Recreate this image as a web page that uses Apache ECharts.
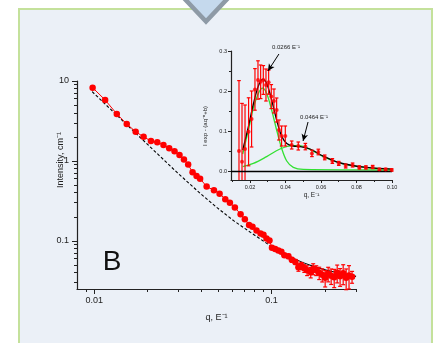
<!DOCTYPE html>
<html><head><meta charset="utf-8">
<script src="https://cdn.jsdelivr.net/npm/echarts@6/dist/echarts.min.js"></script>
<style>html,body{margin:0;padding:0;background:#fff}#c{width:434px;height:343px}</style>
</head><body><div id="c"></div>
<script>
// ---------- main (log-log) data ----------
const mainQ = [0.0098,0.01153,0.01342,0.01527,0.01714,0.0190,0.0209,0.0227,0.0246,0.0265,0.0284,0.0303,0.0321,0.0339,0.0359,0.0378,0.0396,0.0431,0.0474,0.0510,0.0549,0.0583,0.0622,0.0670,0.0708,0.0748,0.0782,0.0824,0.0868,0.0902,0.0938,0.0975,0.1007,0.105,0.1094,0.1138,0.1183,0.1247,0.1304,0.1365,0.142,0.1476,0.1533,0.159,0.1666,0.172,0.179,0.186,0.1935,0.201,0.209,0.2173,0.226,0.235,0.244,0.254,0.264,0.274,0.285];
const mainI = [8.25,5.79,3.87,2.90,2.32,2.0,1.78,1.71,1.585,1.44,1.32,1.19,1.04,0.90,0.72,0.65,0.60,0.478,0.43,0.39,0.332,0.30,0.261,0.216,0.186,0.158,0.150,0.135,0.124,0.119,0.107,0.101,0.0818,0.0794,0.076,0.0729,0.0659,0.064,0.0579,0.0546,0.0467,0.0487,0.0453,0.0428,0.0404,0.0447,0.0428,0.0398,0.0376,0.0345,0.0387,0.0365,0.035,0.0398,0.036,0.0393,0.0345,0.037,0.0355];
const mainErr = [0,0,0,0,0,0,0,0,0,0,0,0,0,0,0,0,0,0,0,0,0,0,0,0,0,0,0,0,0,0,0,0,0.003,0.003,0.003,0.003,0.003,0.004,0.004,0.004,0.005,0.005,0.005,0.006,0.006,0.007,0.006,0.007,0.007,0.008,0.008,0.008,0.009,0.01,0.009,0.011,0.01,0.012,0.006];
const baseQ = [0.00974,0.01722,0.02954,0.03992,0.04955,0.06142,0.07622,0.09871];
const baseI = [7.35,2.207,0.708,0.387,0.2585,0.1778,0.1277,0.0866];
const tailQ = [0.09871,0.1334,0.1656,0.2055,0.3003];
const tailI = [0.0866,0.0604,0.0494,0.0428,0.036];
const mainXLabels = [0.01,0.1];
const mainXMinor = [0.009,0.02,0.03,0.04,0.05,0.06,0.07,0.08,0.09,0.2,0.3];
const mainYLabels = [0.1,1,10];
const mainYMinor = [0.03,0.04,0.05,0.06,0.07,0.08,0.09,0.2,0.3,0.4,0.5,0.6,0.7,0.8,0.9,2,3,4,5,6,7,8,9];

// ---------- inset (linear) data ----------
const insQ = [0.0138,0.0155,0.0172,0.0192,0.0209,0.0228,0.0245,0.026,0.0275,0.029,0.0305,0.032,0.0335,0.035,0.0363,0.0378,0.0399,0.0435,0.0472,0.0512,0.0549,0.0585,0.0621,0.0664,0.070,0.0739,0.0778,0.0816,0.0853,0.0891,0.0929,0.0964,0.0998];
const insV = [0.05,0.023,0.055,0.098,0.13,0.204,0.2275,0.223,0.2275,0.215,0.222,0.186,0.175,0.1525,0.1025,0.0875,0.0875,0.065,0.0625,0.061,0.044,0.0475,0.034,0.025,0.019,0.0125,0.015,0.009,0.009,0.01,0.004,0.004,0.0025];
const insE = [0.176,0.146,0.11,0.085,0.07,0.052,0.048,0.042,0.036,0.04,0.03,0.03,0.03,0.03,0.025,0.025,0.025,0.01,0.01,0.008,0.008,0.007,0.006,0.006,0.005,0.005,0.005,0.004,0.004,0.004,0.003,0.003,0.003];
const fitQ = [0.0159,0.0191,0.0219,0.0247,0.0271,0.0294,0.0322,0.035,0.0378,0.0407,0.0444,0.0482,0.0538,0.0613,0.0688,0.0763,0.0857,0.1002];
const fitV = [0.0525,0.111,0.1675,0.2125,0.229,0.219,0.1775,0.1275,0.0875,0.069,0.0625,0.061,0.055,0.037,0.023,0.015,0.009,0.0045];
const g1Q = [0.0159,0.0191,0.0219,0.0247,0.0271,0.0294,0.0322,0.035,0.0378,0.0407,0.0444,0.05,0.1002];
const g1V = [0.0425,0.1025,0.157,0.194,0.207,0.194,0.1525,0.1025,0.057,0.025,0.009,0.004,0.0025];
const g2Q = [0.0159,0.0219,0.0294,0.0369,0.0444,0.0482,0.0538,0.0613,0.0688,0.0763,0.0857,0.1002];
const g2V = [0.011,0.019,0.036,0.055,0.0633,0.0633,0.054,0.036,0.0225,0.014,0.0083,0.004];
const insXLabels = [0.02,0.04,0.06,0.08,0.10];
const insXMinor = [0.01,0.03,0.05,0.07,0.09];
const insYLabels = [0,0.1,0.2,0.3];
const insYMinor = [0.05,0.15,0.25];
const insYMin = -0.0225;
const peakNotes = [
  {text:'0.0266 E\u207B\u00B9', at:[0.0403,0.31], from:[0.0363,0.2925], to:[0.0301,0.25]},
  {text:'0.0464 E\u207B\u00B9', at:[0.0561,0.135], from:[0.0527,0.1225], to:[0.0499,0.075]}
];

const zip = (a,b) => a.map((v,i)=>[v,b[i]]);
const FONT = 'Liberation Sans, Arial, sans-serif';
const TXT = '#222';

function errBars(capW, lw, yMin){
  return function(params, api){
    const x = api.value(0), y = api.value(1), e = api.value(2);
    if (!e) return null;
    let lov = y - e, clamped = false;
    if (yMin !== undefined && lov < yMin){ lov = yMin; clamped = true; }
    const hi = api.coord([x, y + e]);
    const lo = api.coord([x, lov]);
    const st = {stroke:'#ff0000', lineWidth:lw};
    const ch = [
      {type:'line', shape:{x1:hi[0],y1:hi[1],x2:lo[0],y2:lo[1]}, style:st},
      {type:'line', shape:{x1:hi[0]-capW,y1:hi[1],x2:hi[0]+capW,y2:hi[1]}, style:st}
    ];
    if (!clamped) ch.push({type:'line', shape:{x1:lo[0]-capW,y1:lo[1],x2:lo[0]+capW,y2:lo[1]}, style:st});
    return {type:'group', children:ch};
  };
}

const axLine = {lineStyle:{color:'#222', width:1.2}, onZero:false};
const noSplit = {show:false};

const chart = echarts.init(document.getElementById('c'), null, {renderer:'canvas'});
const option = {
  backgroundColor:'#ffffff',
  animation:false,
  textStyle:{fontFamily:FONT},
  grid:[
    {left:77, top:81, width:279, height:208},
    {left:231, top:51, width:161, height:129}
  ],
  xAxis:[
    {type:'log', gridIndex:0, position:'bottom', min:0.008, max:0.3, axisLine:axLine, splitLine:noSplit,
     axisTick:{length:5, customValues:mainXLabels, lineStyle:{color:'#222'}},
     axisLabel:{customValues:mainXLabels, formatter:v=>String(v), fontSize:9, color:TXT, margin:7, fontFamily:FONT},
     name:'q, E\u207B\u00B9', nameLocation:'middle', nameGap:24, nameTextStyle:{fontSize:9, color:TXT, fontFamily:FONT}},
    {type:'log', gridIndex:0, position:'bottom', min:0.008, max:0.3, axisLine:{show:false, onZero:false}, splitLine:noSplit,
     axisTick:{length:3, customValues:mainXMinor, lineStyle:{color:'#222'}}, axisLabel:{show:false}},
    {type:'value', gridIndex:1, position:'bottom', min:0.0093, max:0.1, axisLine:axLine, splitLine:noSplit,
     axisTick:{length:3, customValues:insXLabels, lineStyle:{color:'#222'}},
     axisLabel:{customValues:insXLabels, formatter:v=>v.toFixed(2), fontSize:5.5, color:TXT, margin:4, fontFamily:FONT},
     name:'q, E\u207B\u00B9', nameLocation:'middle', nameGap:12, nameTextStyle:{fontSize:6.5, color:TXT, fontFamily:FONT}},
    {type:'value', gridIndex:1, position:'bottom', min:0.0093, max:0.1, axisLine:{show:false, onZero:false}, splitLine:noSplit,
     axisTick:{length:2, customValues:insXMinor, lineStyle:{color:'#222'}}, axisLabel:{show:false}}
  ],
  yAxis:[
    {type:'log', gridIndex:0, position:'left', min:0.025, max:10, axisLine:axLine, splitLine:noSplit,
     axisTick:{length:5, customValues:mainYLabels, lineStyle:{color:'#222'}},
     axisLabel:{customValues:mainYLabels, formatter:v=>String(v), fontSize:9, color:TXT, margin:8, fontFamily:FONT}},
    {type:'log', gridIndex:0, position:'left', min:0.025, max:10, axisLine:{show:false, onZero:false}, splitLine:noSplit,
     axisTick:{length:3, customValues:mainYMinor, lineStyle:{color:'#222'}}, axisLabel:{show:false}},
    {type:'value', gridIndex:1, position:'left', min:insYMin, max:0.3, axisLine:axLine, splitLine:noSplit,
     axisTick:{length:3, customValues:insYLabels, lineStyle:{color:'#222'}},
     axisLabel:{customValues:insYLabels, formatter:v=>v.toFixed(1), fontSize:5.5, color:TXT, margin:4, fontFamily:FONT}},
    {type:'value', gridIndex:1, position:'left', min:insYMin, max:0.3, axisLine:{show:false, onZero:false}, splitLine:noSplit,
     axisTick:{length:2, customValues:insYMinor, lineStyle:{color:'#222'}}, axisLabel:{show:false}}
  ],
  series:[
    {type:'line', xAxisIndex:0, yAxisIndex:0, data:zip(baseQ,baseI), symbol:'none', silent:true,
     lineStyle:{color:'#000', width:1.1, type:[3,2]}, z:2},
    {type:'line', xAxisIndex:0, yAxisIndex:0, data:zip(tailQ,tailI), symbol:'none', smooth:0.3, silent:true,
     lineStyle:{color:'#000', width:1.1}, z:2},
    {type:'custom', xAxisIndex:0, yAxisIndex:0, data:mainQ.map((q,i)=>[q,mainI[i],mainErr[i]]),
     renderItem:errBars(2, 1.2), encode:{x:0,y:1}, z:3},
    {type:'line', xAxisIndex:0, yAxisIndex:0, data:zip(mainQ,mainI), symbol:'circle', symbolSize:6.5,
     itemStyle:{color:'#ff0000'}, lineStyle:{color:'#ff0000', width:1}, z:4},

    // inset
    {type:'line', xAxisIndex:2, yAxisIndex:2, data:zip(g2Q,g2V), symbol:'none', smooth:0.35, silent:true,
     lineStyle:{color:'#33e033', width:1.3}, z:2,
     markLine:{silent:true, symbol:'none', label:{show:false}, lineStyle:{color:'#000', width:1.3, type:'solid'},
       data:[{yAxis:0}]}},
    {type:'line', xAxisIndex:2, yAxisIndex:2, data:zip(g1Q,g1V), symbol:'none', smooth:0.35, silent:true,
     lineStyle:{color:'#33e033', width:1.3}, z:2},
    {type:'line', xAxisIndex:2, yAxisIndex:2, data:zip(fitQ,fitV), symbol:'none', smooth:0.35, silent:true,
     lineStyle:{color:'#000', width:1.3}, z:3,
     markLine:{silent:true, symbol:['none','arrow'], symbolSize:[5,7], label:{show:false},
       lineStyle:{color:'#000', width:1, type:'solid'},
       data:peakNotes.map(n=>[{coord:n.from},{coord:n.to}])}},
    {type:'custom', xAxisIndex:2, yAxisIndex:2, data:insQ.map((q,i)=>[q,insV[i],insE[i]]),
     renderItem:errBars(1.8, 1.2, insYMin), encode:{x:0,y:1}, z:4},
    {type:'scatter', xAxisIndex:2, yAxisIndex:2, data:zip(insQ,insV), symbol:'circle', symbolSize:4,
     itemStyle:{color:'#ff0000'}, z:5}
  ]
};
chart.setOption(option);

// overlay graphics: panel, arrow, labels
const notes = peakNotes.map(n => {
  const p = chart.convertToPixel({xAxisIndex:2, yAxisIndex:2}, n.at);
  return {type:'text', x:p[0], y:p[1], z:50,
    style:{text:n.text, fontSize:6, fill:TXT, font:'6px '+FONT, align:'center', verticalAlign:'middle'}};
});
chart.setOption({graphic:[
  {type:'rect', shape:{x:19, y:9, width:413, height:345}, z:-100,
   style:{fill:'#ebf0f7', stroke:'#c4e19b', lineWidth:2}},
  {type:'polygon', shape:{points:[[182,-4],[230,-4],[206,21.5]]}, z:100,
   style:{fill:'#c5d9ed', stroke:'#8e9aa6', lineWidth:4.5, lineJoin:'miter'}},
  {type:'text', x:112, y:262, z:50,
   style:{text:'B', font:'28px '+FONT, fill:'#111', align:'center', verticalAlign:'middle'}},
  {type:'text', x:61, y:160, rotation:Math.PI/2, z:50,
   style:{text:'Intensity, cm\u207B\u00B9', font:'9px '+FONT, fill:TXT, align:'center', verticalAlign:'middle'}},
  {type:'text', x:205.5, y:126, rotation:Math.PI/2, z:50,
   style:{text:'I exp - (aq\u207B\u207F+b)', font:'6px '+FONT, fill:TXT, align:'center', verticalAlign:'middle'}}
].concat(notes)});
</script>
</body></html>
